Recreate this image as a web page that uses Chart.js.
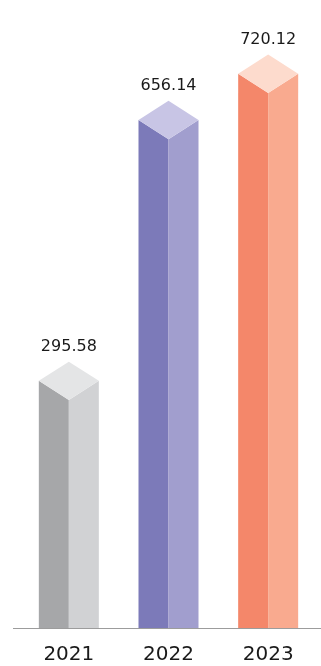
<!DOCTYPE html>
<html>
<head>
<meta charset="utf-8">
<script src="https://cdn.jsdelivr.net/npm/chart.js@4"></script>
<style>
  html, body { margin: 0; padding: 0; background: #fff; }
  #wrap { width: 321px; height: 666px; position: relative; }
</style>
</head>
<body>
<div id="wrap"><canvas id="chartRevenue"></canvas></div>
<script>
// ── 3D prism bar chart ──────────────────────────

const years = ["2021", "2022", "2023"];
const values = [295.58, 656.14, 720.12];

const leftFace = ["#a6a7a9", "#7c7ab9", "#f4876a"];
const rightFace = ["#d1d2d4", "#a19ece", "#f9aa8f"];
const topFace = ["#e4e5e6", "#c8c5e5", "#fddbcd"];

const prismPlugin = {
  id: "prism",
  afterDatasetsDraw(chart) {
    const ctx = chart.ctx;
    const meta = chart.getDatasetMeta(0);
    const area = chart.chartArea;

    // baseline, a bit wider than the plot area
    ctx.save();
    ctx.strokeStyle = "#9c9c9c";
    ctx.lineWidth = 1;
    ctx.beginPath();
    ctx.moveTo(area.left - 6, area.bottom + 0.5);
    ctx.lineTo(chart.width, area.bottom + 0.5);
    ctx.stroke();

    meta.data.forEach((bar, i) => {
      const { x, y, base, width } = bar.getProps(["x", "y", "base", "width"], true);
      const hw = width / 2;
      const hh = width * 0.32;

      ctx.fillStyle = leftFace[i];
      ctx.beginPath();
      ctx.moveTo(x - hw, y);
      ctx.lineTo(x, y + hh);
      ctx.lineTo(x, base);
      ctx.lineTo(x - hw, base);
      ctx.closePath();
      ctx.fill();

      ctx.fillStyle = rightFace[i];
      ctx.beginPath();
      ctx.moveTo(x, y + hh);
      ctx.lineTo(x + hw, y);
      ctx.lineTo(x + hw, base);
      ctx.lineTo(x, base);
      ctx.closePath();
      ctx.fill();

      ctx.fillStyle = topFace[i];
      ctx.beginPath();
      ctx.moveTo(x, y - hh);
      ctx.lineTo(x + hw, y);
      ctx.lineTo(x, y + hh);
      ctx.lineTo(x - hw, y);
      ctx.closePath();
      ctx.fill();

      ctx.fillStyle = "#1a1a1a";
      ctx.font = "16px 'DejaVu Sans'";
      ctx.textAlign = "center";
      ctx.textBaseline = "middle";
      ctx.fillText(values[i].toFixed(2), x, y - hh - 15);
    });
    ctx.restore();
  },
};

new Chart(document.getElementById("chartRevenue"), {
  type: "bar",
  data: {
    labels: years,
    datasets: [
      {
        data: values,
        base: -46,
        backgroundColor: "rgba(0,0,0,0)",
        borderWidth: 0,
        barThickness: 60,
      },
    ],
  },
  options: {
    responsive: true,
    maintainAspectRatio: false,
    animation: false,
    layout: { padding: { left: 19, right: 3, top: 0, bottom: 0 } },
    plugins: {
      legend: { display: false },
      tooltip: { enabled: false },
    },
    scales: {
      x: {
        grid: { display: false, drawTicks: false },
        border: { display: false },
        afterFit: (scale) => {
          scale.height = 38;
        },
        ticks: {
          color: "#1a1a1a",
          padding: 15,
          font: { family: "'DejaVu Sans'", size: 20 },
        },
      },
      y: {
        display: false,
        min: -46,
        max: 822,
      },
    },
  },
  plugins: [prismPlugin],
});
</script>
</body>
</html>
